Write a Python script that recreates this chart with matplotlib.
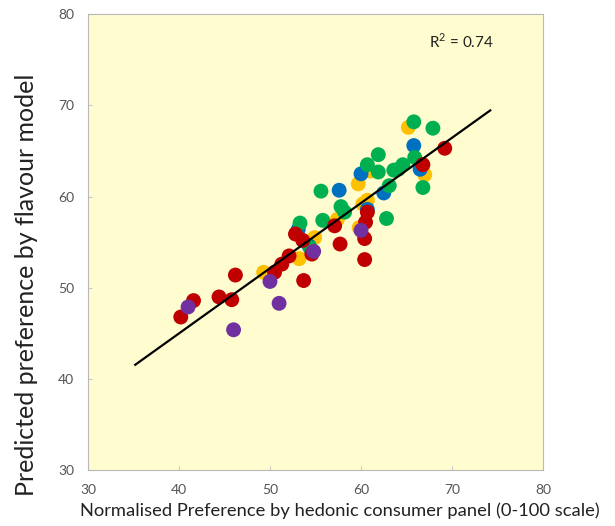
import matplotlib
matplotlib.use("Agg")
import matplotlib.pyplot as plt

# Data
yellow_x = [49.3, 53.2, 54.9, 57.4, 59.7, 60.7, 60.2, 65.2, 67.0, 61.0, 59.8]
yellow_y = [51.7, 53.2, 55.5, 57.5, 61.4, 59.6, 59.2, 67.6, 62.4, 62.8, 56.6]

blue_x = [57.6, 60.0, 62.5, 65.8, 66.5, 53.1, 60.7, 54.3]
blue_y = [60.7, 62.5, 60.4, 65.6, 63.0, 56.4, 58.6, 54.6]

green_x = [53.3, 54.4, 55.6, 55.8, 57.8, 58.2, 60.7, 61.9, 61.9, 62.8, 63.1,
           63.6, 64.6, 64.1, 65.8, 65.9, 66.8, 67.9]
green_y = [57.1, 54.4, 60.6, 57.4, 58.9, 58.3, 63.5, 64.6, 62.7, 57.6, 61.2,
           62.9, 63.5, 63.0, 68.2, 64.3, 61.0, 67.5]

red_x = [40.2, 41.6, 44.4, 45.8, 46.2, 50.5, 51.3, 52.1, 52.8, 53.6, 53.7,
         54.6, 57.1, 57.7, 60.4, 60.4, 60.5, 60.7, 66.8, 69.2]
red_y = [46.8, 48.6, 49.0, 48.7, 51.4, 51.7, 52.6, 53.5, 55.9, 55.2, 50.8,
         53.7, 56.8, 54.8, 53.1, 55.4, 57.2, 58.3, 63.5, 65.3]

purple_x = [41.0, 46.0, 50.0, 51.0, 54.8, 60.0]
purple_y = [47.9, 45.4, 50.7, 48.3, 54.0, 56.3]

fit_x = [35.2, 74.2]
fit_slope = 0.715
fit_intercept = 16.4
r2_text = "R$^2$ = 0.74"

x_ticks = [30, 40, 50, 60, 70, 80]
y_ticks = [30, 40, 50, 60, 70, 80]

plt.rcParams['font.family'] = ['Lato', 'DejaVu Sans']
plt.rcParams['mathtext.fontset'] = 'custom'
plt.rcParams['mathtext.rm'] = 'Lato'

fig = plt.figure(figsize=(6.15, 5.26), dpi=100)
ax = fig.add_axes([0.143, 0.106, 0.740, 0.867])
ax.set_facecolor('#FFFDCF')

s = 115
ax.scatter(yellow_x, yellow_y, s=s, color='#FFC000', edgecolors='none', zorder=3)
ax.scatter(blue_x, blue_y, s=s, color='#0070C0', edgecolors='none', zorder=3)
ax.scatter(green_x, green_y, s=s, color='#00B050', edgecolors='none', zorder=3)
ax.scatter(red_x, red_y, s=s, color='#C00000', edgecolors='none', zorder=3)
ax.scatter(purple_x, purple_y, s=s, color='#7030A0', edgecolors='none', zorder=3)

fy = [fit_slope * v + fit_intercept for v in fit_x]
ax.plot(fit_x, fy, color='black', lw=1.6, zorder=4)

ax.text(67.5, 77.0, r2_text, fontsize=11, color='#222222', va='center', ha='left')

ax.set_xlim(30, 80)
ax.set_ylim(30, 80)
ax.set_xticks(x_ticks)
ax.set_yticks(y_ticks)
ax.tick_params(direction='in', length=3, width=0.8, labelsize=10,
               colors='#C8C8C8', labelcolor='#555555', pad=10)
for sp in ax.spines.values():
    sp.set_color('#B8B8B8')
    sp.set_linewidth(0.8)

ax.set_xlabel('Normalised Preference by hedonic consumer panel (0-100 scale)',
              fontsize=13.2, color='#222222')
ax.xaxis.set_label_coords(0.554, -0.07)
ax.set_ylabel('Predicted preference by flavour model', fontsize=18,
              color='#222222')
ax.yaxis.set_label_coords(-0.109, 0.406)

fig.savefig('out.png', dpi=100, facecolor='white')
